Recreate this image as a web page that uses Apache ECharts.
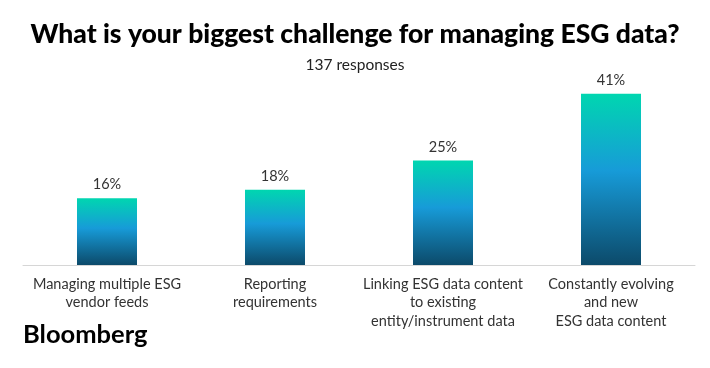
<!DOCTYPE html>
<html><head><meta charset="utf-8">
<script src="https://cdn.jsdelivr.net/npm/echarts@6/dist/echarts.min.js"></script>
<style>html,body{margin:0;padding:0;background:#fff}#c{width:710px;height:368px}</style>
</head><body><div id="c"></div>
<script>
const categories = ["Managing multiple ESG\nvendor feeds", "Reporting\nrequirements", "Linking ESG data content\nto existing\nentity/instrument data", "Constantly evolving\nand new\nESG data content"];
const values = [16, 18, 25, 41];
const titleText = "What is your biggest challenge for managing ESG data?";
const subtitleText = "137 responses";

const chart = echarts.init(document.getElementById('c'), null, {renderer: 'canvas'});
const grad = new echarts.graphic.LinearGradient(0, 0, 0, 1, [
  {offset: 0, color: '#00d6b0'},
  {offset: 0.45, color: '#179bd8'},
  {offset: 1, color: '#0c4a6a'}
]);
chart.setOption({
  animation: false,
  title: [{
    text: titleText, left: 'center', top: 16,
    textStyle: {fontFamily: 'Lato', fontWeight: 900, fontSize: 26.5, color: '#000'}
  }, {
    text: subtitleText, left: 'center', top: 52,
    textStyle: {fontFamily: 'Lato', fontWeight: 'normal', fontSize: 15.5, color: '#222'}
  }],
  grid: {left: 23, right: 15, top: 77, bottom: 103, containLabel: false},
  xAxis: {
    type: 'category', data: categories,
    axisLine: {lineStyle: {color: '#d6d6d6', width: 1}},
    axisTick: {show: false},
    axisLabel: {interval: 0, margin: 10, fontFamily: 'Lato', fontSize: 14.5, color: '#333', lineHeight: 18.5}
  },
  yAxis: {type: 'value', min: 0, max: 45, show: false, splitLine: {show: false}},
  series: [{
    type: 'bar', data: values, barWidth: 60,
    itemStyle: {color: grad},
    label: {show: true, position: 'top', distance: 6, formatter: '{c}%', fontFamily: 'Lato', fontSize: 14.5, color: '#333'}
  }],
  graphic: [{
    type: 'text', left: 23, top: 322,
    style: {text: 'Bloomberg', fontFamily: 'Lato', fontWeight: 'bold', fontSize: 25.5, fill: '#000'}
  }]
});
</script></body></html>
